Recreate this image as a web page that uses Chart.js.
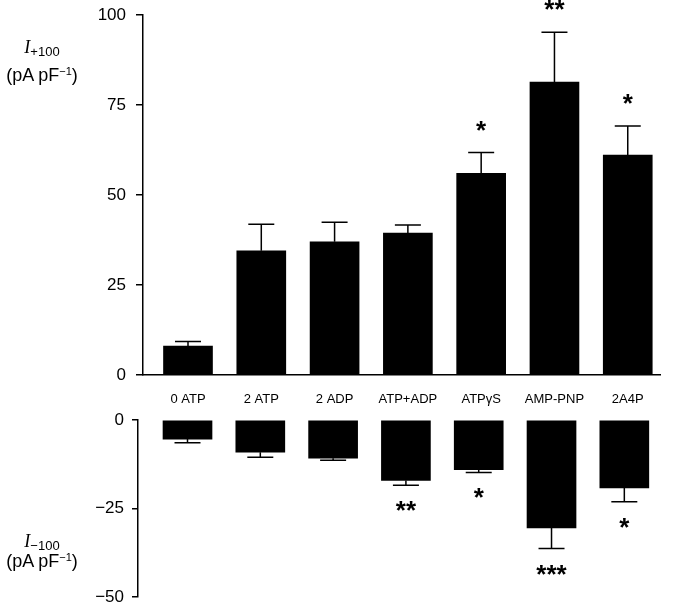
<!DOCTYPE html>
<html>
<head>
<meta charset="utf-8">
<script src="https://cdn.jsdelivr.net/npm/chart.js@4.4.0/dist/chart.umd.min.js"></script>
<style>
  body { margin: 0; background: #fff; }
  #wrap { position: relative; width: 681px; height: 608px; font-family: "Liberation Sans", Arial, sans-serif; color: #000; }
  .box { position: absolute; left: 0; width: 681px; }
  .ttl { position: absolute; left: 0; width: 84px; text-align: center; font-size: 18px; line-height: 20px; }
  .ttl i { font-family: "Liberation Serif", serif; font-size: 18px; }
  .ttl sub { font-size: 13px; vertical-align: -3px; }
  .ttl sup { font-size: 11px; vertical-align: 6px; }
</style>
</head>
<body>
<div id="wrap">
  <div class="box" style="top:0;height:420px"><canvas id="plusChart"></canvas></div>
  <div class="box" style="top:405px;height:203px"><canvas id="minusChart"></canvas></div>
  <div class="ttl" style="top:37px"><i>I</i><sub>+100</sub></div>
  <div class="ttl" style="top:61px">(pA pF<sup>−1</sup>)</div>
  <div class="ttl" style="top:531px"><i>I</i><sub>−100</sub></div>
  <div class="ttl" style="top:547px">(pA pF<sup>−1</sup>)</div>
</div>
<script>
const categories = ["0 ATP", "2 ATP", "2 ADP", "ATP+ADP", "ATPγS", "AMP-PNP", "2A4P"];

// I+100 (pA pF-1), mean and s.e.m.
const plusMean = [8, 34.5, 37, 39.4, 56, 81.4, 61.1];
const plusSem = [1.3, 7.4, 5.4, 2.3, 5.8, 13.8, 8.1];
const plusStars = ["", "", "", "", "*", "**", "*"];

// I-100 (pA pF-1), mean and s.e.m.
const minusMean = [-5.4, -9.1, -10.8, -17.1, -14.0, -30.5, -19.2];
const minusSem = [1.0, 1.4, 0.6, 1.3, 0.8, 5.8, 3.9];
const minusStars = ["", "", "", "**", "*", "***", "*"];

const plusTicks = [0, 25, 50, 75, 100];
const minusTicks = [-50, -25, 0];

const errorBars = {
  id: "errorBars",
  afterDatasetsDraw(chart, args, opts) {
    const { ctx } = chart;
    const yScale = chart.scales.y;
    const meta = chart.getDatasetMeta(0);
    ctx.save();
    ctx.strokeStyle = "#000";
    ctx.lineWidth = 1.5;
    ctx.fillStyle = "#000";
    ctx.font = "bold 26px 'Liberation Sans', Arial, sans-serif";
    ctx.textAlign = "center";
    ctx.textBaseline = "alphabetic";
    meta.data.forEach((bar, i) => {
      const end = opts.means[i] + opts.sign * opts.sems[i];
      const yEnd = yScale.getPixelForValue(end);
      ctx.beginPath();
      ctx.moveTo(bar.x, bar.y);
      ctx.lineTo(bar.x, yEnd);
      ctx.moveTo(bar.x - 13, yEnd);
      ctx.lineTo(bar.x + 13, yEnd);
      ctx.stroke();
      const star = opts.stars[i];
      if (star) {
        const cy = yEnd - opts.sign * opts.gap;
        ctx.fillText(star, bar.x, cy + 12); // asterisk sits high above the baseline
      }
    });
    ctx.restore();
  },
};

const axisFont = { family: "'Liberation Sans', Arial, sans-serif", size: 17 };

// keep label padding from pushing the chart area in
const noLabelPad = (scale, w) => {
  scale.width = w;
  scale.paddingTop = 0;
  scale.paddingBottom = 0;
};

const plusCtx = document.getElementById("plusChart").getContext("2d");
const plusChart = new Chart(plusCtx, {
  type: "bar",
  data: {
    datasets: [
      {
        data: plusMean.map((v, i) => ({ x: i, y: v })),
        backgroundColor: "#000",
        borderWidth: 0,
        barThickness: 49,
      },
    ],
  },
  options: {
    responsive: true,
    maintainAspectRatio: false,
    animation: false,
    layout: { padding: { top: 15, right: 21, left: 0, bottom: 0 } },
    scales: {
      x: {
        type: "linear",
        offset: false,
        min: -0.614,
        max: 6.44,
        grid: { display: false },
        border: { display: true, color: "#000", width: 1.5 },
        afterBuildTicks: (scale) => {
          scale.ticks = categories.map((c, i) => ({ value: i }));
        },
        afterFit: (scale) => {
          scale.height = 45;
          scale.paddingLeft = 0;
          scale.paddingRight = 0;
        },
        ticks: {
          autoSkip: false,
          maxRotation: 0,
          padding: 9,
          color: "#000",
          font: { family: "'Liberation Sans', Arial, sans-serif", size: 13 },
          callback: (value) => categories[value],
        },
      },
      y: {
        min: 0,
        max: 100,
        afterBuildTicks: (scale) => {
          scale.ticks = plusTicks.map((v) => ({ value: v }));
        },
        afterFit: (scale) => noLabelPad(scale, 143),
        grid: { drawOnChartArea: false, tickLength: 7, color: "#000", lineWidth: 1.5 },
        border: { display: true, color: "#000", width: 1.5 },
        ticks: { padding: 10, color: "#000", font: axisFont },
      },
    },
    plugins: {
      legend: { display: false },
      tooltip: { enabled: false },
      errorBars: { means: plusMean, sems: plusSem, stars: plusStars, sign: 1, gap: 26 },
    },
  },
  plugins: [errorBars],
});

const minusCtx = document.getElementById("minusChart").getContext("2d");
const minusChart = new Chart(minusCtx, {
  type: "bar",
  data: {
    datasets: [
      {
        data: minusMean.map((v, i) => ({ x: i, y: v })),
        backgroundColor: "#000",
        borderWidth: 0,
        barThickness: 49,
      },
    ],
  },
  options: {
    responsive: true,
    maintainAspectRatio: false,
    animation: false,
    layout: { padding: { top: 15, right: 21, left: 0, bottom: 11 } },
    scales: {
      x: {
        type: "linear",
        offset: false,
        min: -0.68,
        max: 6.49,
        display: false,
      },
      y: {
        min: -50,
        max: 0,
        afterBuildTicks: (scale) => {
          scale.ticks = minusTicks.map((v) => ({ value: v }));
        },
        afterFit: (scale) => noLabelPad(scale, 138),
        grid: { drawOnChartArea: false, tickLength: 6, color: "#000", lineWidth: 1.5 },
        border: { display: true, color: "#000", width: 1.5 },
        ticks: {
          padding: 8,
          color: "#000",
          font: axisFont,
          callback: (value) => (value < 0 ? "−" + Math.abs(value) : value),
        },
      },
    },
    plugins: {
      legend: { display: false },
      tooltip: { enabled: false },
      errorBars: { means: minusMean, sems: minusSem, stars: minusStars, sign: -1, gap: 22 },
    },
  },
  plugins: [errorBars],
});
</script>
</body>
</html>
